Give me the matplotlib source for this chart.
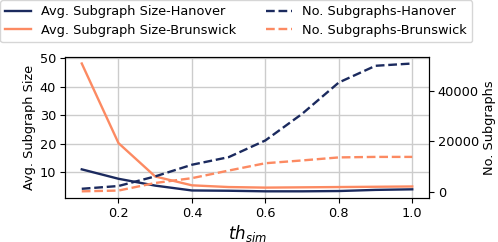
import matplotlib
matplotlib.use("Agg")
from matplotlib import pyplot as plt
import numpy as np

th_sim = [0.1, 0.2, 0.3, 0.4, 0.5, 0.6, 0.7, 0.8, 0.9, 1.0]
size_hanover = [11.1, 7.8, 5.4, 3.7, 3.6, 3.4, 3.4, 3.5, 3.9, 4.1]
size_brunswick = [48.2, 20.3, 8.6, 5.5, 4.9, 4.7, 4.8, 4.9, 5.0, 5.1]
count_hanover = [1300, 2400, 6200, 10800, 13800, 20400, 30900, 43300, 49900, 50800]
count_brunswick = [300, 600, 3600, 5500, 8500, 11400, 12500, 13700, 13900, 13900]

navy = "#1b2a5e"
coral = "#fc8a62"
fs = 9.3

fig = plt.figure(figsize=(4.98, 2.42), dpi=100)
ax = fig.add_axes([0.131, 0.183, 0.730, 0.581])
ax2 = ax.twinx()

l1, = ax.plot(th_sim, size_hanover, color=navy, lw=1.7, label="Avg. Subgraph Size-Hanover")
l2, = ax.plot(th_sim, size_brunswick, color=coral, lw=1.7, label="Avg. Subgraph Size-Brunswick")
l3, = ax2.plot(th_sim, count_hanover, color=navy, lw=1.7, ls="--", label="No. Subgraphs-Hanover")
l4, = ax2.plot(th_sim, count_brunswick, color=coral, lw=1.7, ls="--", label="No. Subgraphs-Brunswick")

ax.grid(True, color="#cccccc", lw=1)
ax.set_axisbelow(True)
ax.set_yticks([10, 20, 30, 40, 50])
ax.set_xticks([0.2, 0.4, 0.6, 0.8, 1.0])
ax2.set_yticks([0, 20000, 40000])
ax.set_ylabel("Avg. Subgraph Size", fontsize=fs, labelpad=3)
ax2.set_ylabel("No. Subgraphs", fontsize=fs, labelpad=3)
ax.set_xlabel("$th_{sim}$", fontsize=12, labelpad=2)
ax.tick_params(labelsize=fs, pad=3)
ax2.tick_params(labelsize=fs, pad=3)

fig.legend(handles=[l1, l2, l3, l4], ncol=2, loc="upper left",
           bbox_to_anchor=(0.0, 1.0), fontsize=fs, columnspacing=2.3,
           handlelength=2.0, borderaxespad=0, borderpad=0.4, labelspacing=0.45)

fig.savefig("out.png", dpi=100)
